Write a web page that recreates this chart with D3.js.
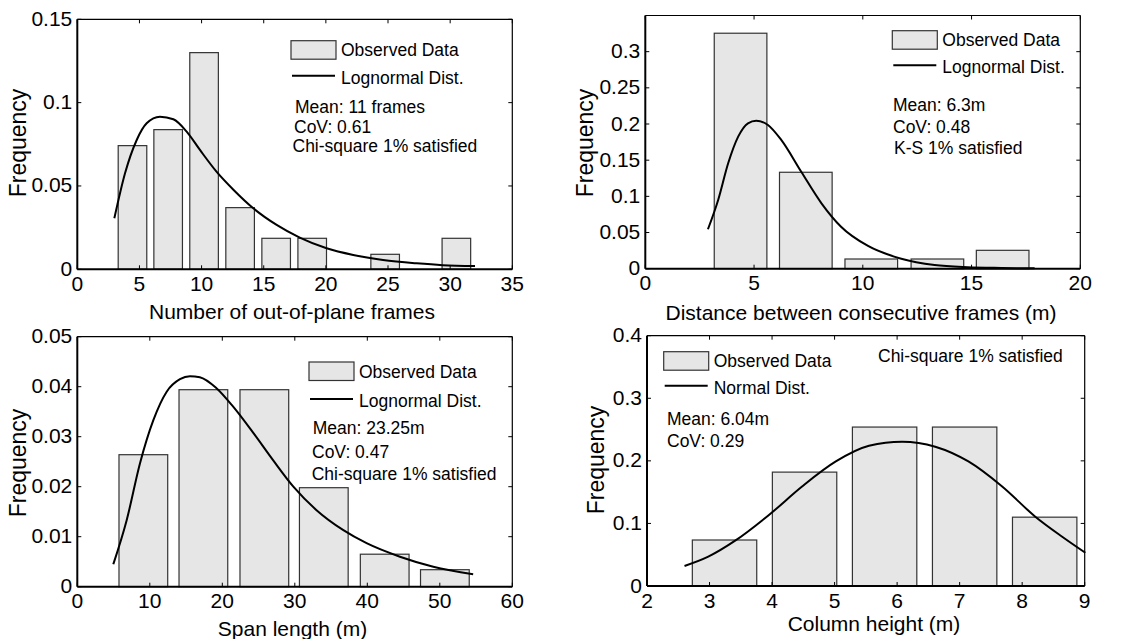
<!DOCTYPE html>
<meta charset="utf-8">
<head>
  <title>Frequency histograms</title>
  <style>
    body { margin: 0; background: #fff; }
    svg text { font-family: "Liberation Sans", Arial, sans-serif; fill: #000; }
    .bar { fill: #e6e6e6; stroke: #333; stroke-width: 1.2; }
    .curve { fill: none; stroke: #000; stroke-width: 2; }
  </style>
  <script src="https://d3js.org/d3.v7.min.js"></script>
</head>
<body>
<svg id="chart" width="1136" height="639"></svg>
<script>
// panel 1: number of out-of-plane frames
var p1Centers = [4.44, 7.31, 10.2, 13.1, 16.0, 18.9, 24.77, 30.5];
var p1Freq = [0.0742, 0.0838, 0.130, 0.037, 0.0186, 0.0186, 0.009, 0.0186];
var p1CurveX = [2.98, 3.84, 4.78, 5.58, 6.65, 7.73, 8.8, 9.87, 11.2, 12.58, 14.16, 16.04, 17.9, 20.06, 22.2, 24.6, 27.3, 29.4, 32.0];
var p1CurveY = [0.0306, 0.0576, 0.0776, 0.0876, 0.0916, 0.090, 0.0826, 0.0716, 0.0586, 0.0476, 0.0366, 0.0266, 0.019, 0.0126, 0.0086, 0.0056, 0.0036, 0.0025, 0.002];
var p1XTicks = [0, 5, 10, 15, 20, 25, 30, 35];
var p1YTicks = [0, 0.05, 0.1, 0.15];

// panel 2: distance between frames
var p2Centers = [4.38, 7.38, 10.39, 13.43, 16.43];
var p2Freq = [0.3255, 0.1333, 0.0134, 0.0134, 0.0254];
var p2CurveX = [2.88, 3.35, 3.81, 4.27, 4.72, 5.1, 5.64, 6.25, 7.17, 8.1, 9.0, 10.24, 11.77, 13.3, 14.83, 16.37, 17.9];
var p2CurveY = [0.0545, 0.095, 0.1457, 0.1825, 0.201, 0.2046, 0.1987, 0.178, 0.134, 0.0904, 0.058, 0.0314, 0.0138, 0.005, 0.002, 0.001, 0.0005];
var p2XTicks = [0, 5, 10, 15, 20];
var p2YTicks = [0, 0.05, 0.1, 0.15, 0.2, 0.25, 0.3];

// panel 3: span length
var p3Centers = [9.11, 17.39, 25.8, 34.0, 42.4, 50.7];
var p3Freq = [0.0264, 0.0394, 0.0394, 0.0198, 0.0065, 0.0034];
var p3CurveX = [4.97, 6.81, 8.65, 10.49, 12.33, 14.16, 15.54, 16.9, 19.2, 21.5, 24.3, 27.0, 29.8, 33.0, 36.7, 39.9, 44.5, 49.1, 54.6];
var p3CurveY = [0.0045, 0.0133, 0.0247, 0.0333, 0.039, 0.0415, 0.0421, 0.0419, 0.0397, 0.036, 0.0307, 0.0253, 0.02, 0.0153, 0.0113, 0.0087, 0.006, 0.004, 0.0025];
var p3XTicks = [0, 10, 20, 30, 40, 50, 60];
var p3YTicks = [0, 0.01, 0.02, 0.03, 0.04, 0.05];

// panel 4: column height
var p4Centers = [3.24, 4.52, 5.8, 7.08, 8.36];
var p4Freq = [0.0735, 0.182, 0.254, 0.254, 0.11];
var p4CurveX = [2.6, 2.98, 3.41, 3.95, 4.48, 5.02, 5.55, 6.08, 6.61, 7.14, 7.68, 8.21, 8.64, 9.01];
var p4CurveY = [0.032, 0.0469, 0.0724, 0.1135, 0.159, 0.199, 0.224, 0.2306, 0.2226, 0.199, 0.159, 0.1108, 0.0788, 0.0532];
var p4XTicks = [2, 3, 4, 5, 6, 7, 8, 9];
var p4YTicks = [0, 0.1, 0.2, 0.3, 0.4];

var svg = d3.select('#chart');

function drawPanel(cfg) {
  var x = d3.scaleLinear().domain(cfg.xDomain).range([cfg.left, cfg.right]);
  var y = d3.scaleLinear().domain(cfg.yDomain).range([cfg.bottom, cfg.top]);
  var g = svg.append('g');

  // bars
  g.selectAll('rect.bar')
    .data(cfg.centers)
    .enter()
    .append('rect')
    .attr('class', 'bar')
    .attr('x', function(d) { return x(d - cfg.barWidth / 2); })
    .attr('width', function(d) { return x(d + cfg.barWidth / 2) - x(d - cfg.barWidth / 2); })
    .attr('y', function(d, i) { return y(cfg.freq[i]); })
    .attr('height', function(d, i) { return y(0) - y(cfg.freq[i]); });

  // fitted curve
  var pts = cfg.curveX.map(function(v, i) { return [v, cfg.curveY[i]]; });
  var line = d3.line()
    .x(function(d) { return x(d[0]); })
    .y(function(d) { return y(d[1]); })
    .curve(d3.curveMonotoneX);
  g.append('path').attr('class', 'curve').attr('d', line(pts));

  // frame with inward ticks on all sides
  g.append('line').attr('x1', cfg.left).attr('x2', cfg.right).attr('y1', cfg.top).attr('y2', cfg.top).attr('stroke', '#000').attr('stroke-width', 1.2);
  g.append('line').attr('x1', cfg.right).attr('x2', cfg.right).attr('y1', cfg.top).attr('y2', cfg.bottom).attr('stroke', '#000').attr('stroke-width', 1.2);
  g.append('line').attr('x1', cfg.left).attr('x2', cfg.right).attr('y1', cfg.bottom).attr('y2', cfg.bottom).attr('stroke', '#000').attr('stroke-width', 2);
  g.append('line').attr('x1', cfg.left).attr('x2', cfg.left).attr('y1', cfg.top).attr('y2', cfg.bottom).attr('stroke', '#000').attr('stroke-width', 2);

  cfg.xTicks.forEach(function(t) {
    g.append('line').attr('x1', x(t)).attr('x2', x(t)).attr('y1', cfg.top).attr('y2', cfg.top + 4).attr('stroke', '#000');
    g.append('line').attr('x1', x(t)).attr('x2', x(t)).attr('y1', cfg.bottom).attr('y2', cfg.bottom - 4).attr('stroke', '#000');
    g.append('text').attr('x', x(t)).attr('y', cfg.bottom + 14)
      .attr('text-anchor', 'middle').attr('dominant-baseline', 'central')
      .style('font-size', '21px').text(t);
  });
  cfg.yTicks.forEach(function(t) {
    g.append('line').attr('x1', cfg.left).attr('x2', cfg.left + 4).attr('y1', y(t)).attr('y2', y(t)).attr('stroke', '#000');
    g.append('line').attr('x1', cfg.right).attr('x2', cfg.right - 4).attr('y1', y(t)).attr('y2', y(t)).attr('stroke', '#000');
    g.append('text').attr('x', cfg.left - 5).attr('y', y(t) - 1)
      .attr('text-anchor', 'end').attr('dominant-baseline', 'central')
      .style('font-size', '21px').text(t);
  });

  // axis labels
  g.append('text').attr('x', cfg.xLabelPos[0]).attr('y', cfg.xLabelPos[1])
    .attr('text-anchor', 'middle').attr('dominant-baseline', 'central')
    .style('font-size', '21px').text(cfg.xLabel);
  g.append('text')
    .attr('transform', 'translate(' + cfg.yLabelPos[0] + ',' + cfg.yLabelPos[1] + ') rotate(-90)')
    .attr('text-anchor', 'middle').attr('dominant-baseline', 'central')
    .style('font-size', '23px').text('Frequency');

  // legend
  var lg = cfg.legend;
  g.append('rect').attr('class', 'bar')
    .attr('x', lg.x).attr('y', lg.y).attr('width', 45).attr('height', 18.5);
  g.append('text').attr('x', lg.x + 50).attr('y', lg.y + 9.5)
    .attr('dominant-baseline', 'central').style('font-size', '17.5px').text('Observed Data');
  g.append('line').attr('x1', lg.x + 1).attr('x2', lg.x + 44)
    .attr('y1', lg.y + lg.gap + 9).attr('y2', lg.y + lg.gap + 9)
    .attr('stroke', '#000').attr('stroke-width', 2);
  g.append('text').attr('x', lg.x + 50).attr('y', lg.y + lg.gap + 11)
    .attr('dominant-baseline', 'central').style('font-size', '17.5px').text(cfg.distName);

  // notes
  cfg.notes.forEach(function(n) {
    g.append('text').attr('x', n[0]).attr('y', n[1])
      .attr('dominant-baseline', 'central').style('font-size', '17.5px').text(n[2]);
  });
}

drawPanel({
  left: 77.3, right: 512.3, top: 19.3, bottom: 269.3,
  xDomain: [0, 35], yDomain: [0, 0.15],
  centers: p1Centers, freq: p1Freq, barWidth: 2.3,
  curveX: p1CurveX, curveY: p1CurveY,
  xTicks: p1XTicks, yTicks: p1YTicks,
  xLabel: 'Number of out-of-plane frames', xLabelPos: [292, 311],
  yLabelPos: [18, 143],
  legend: { x: 291, y: 40.7, gap: 26 }, distName: 'Lognormal Dist.',
  notes: [[295, 106.7, 'Mean: 11 frames'], [294, 126.7, 'CoV: 0.61'], [292.5, 146, 'Chi-square 1% satisfied']]
});

drawPanel({
  left: 645.3, right: 1080.3, top: 15.5, bottom: 268.7,
  xDomain: [0, 20], yDomain: [0, 0.35],
  centers: p2Centers, freq: p2Freq, barWidth: 2.42,
  curveX: p2CurveX, curveY: p2CurveY,
  xTicks: p2XTicks, yTicks: p2YTicks,
  xLabel: 'Distance between consecutive frames (m)', xLabelPos: [861, 312],
  yLabelPos: [585, 143],
  legend: { x: 892.3, y: 30.7, gap: 25.5 }, distName: 'Lognormal Dist.',
  notes: [[893, 105, 'Mean: 6.3m'], [893, 126.7, 'CoV: 0.48'], [894, 148.3, 'K-S 1% satisfied']]
});

drawPanel({
  left: 77.3, right: 512.3, top: 336.7, bottom: 586.7,
  xDomain: [0, 60], yDomain: [0, 0.05],
  centers: p3Centers, freq: p3Freq, barWidth: 6.72,
  curveX: p3CurveX, curveY: p3CurveY,
  xTicks: p3XTicks, yTicks: p3YTicks,
  xLabel: 'Span length (m)', xLabelPos: [292.5, 628],
  yLabelPos: [18, 463],
  legend: { x: 309, y: 362, gap: 28 }, distName: 'Lognormal Dist.',
  notes: [[312.7, 428.3, 'Mean: 23.25m'], [312, 451.7, 'CoV: 0.47'], [311.7, 474, 'Chi-square 1% satisfied']]
});

drawPanel({
  left: 647, right: 1084.7, top: 335.7, bottom: 586,
  xDomain: [2, 9], yDomain: [0, 0.4],
  centers: p4Centers, freq: p4Freq, barWidth: 1.03,
  curveX: p4CurveX, curveY: p4CurveY,
  xTicks: p4XTicks, yTicks: p4YTicks,
  xLabel: 'Column height (m)', xLabelPos: [874, 623],
  yLabelPos: [596, 460],
  legend: { x: 663.7, y: 351.7, gap: 25 }, distName: 'Normal Dist.',
  notes: [[878, 356, 'Chi-square 1% satisfied'], [667, 419.3, 'Mean: 6.04m'], [667, 440.7, 'CoV: 0.29']]
});
</script>
</body>
</html>
